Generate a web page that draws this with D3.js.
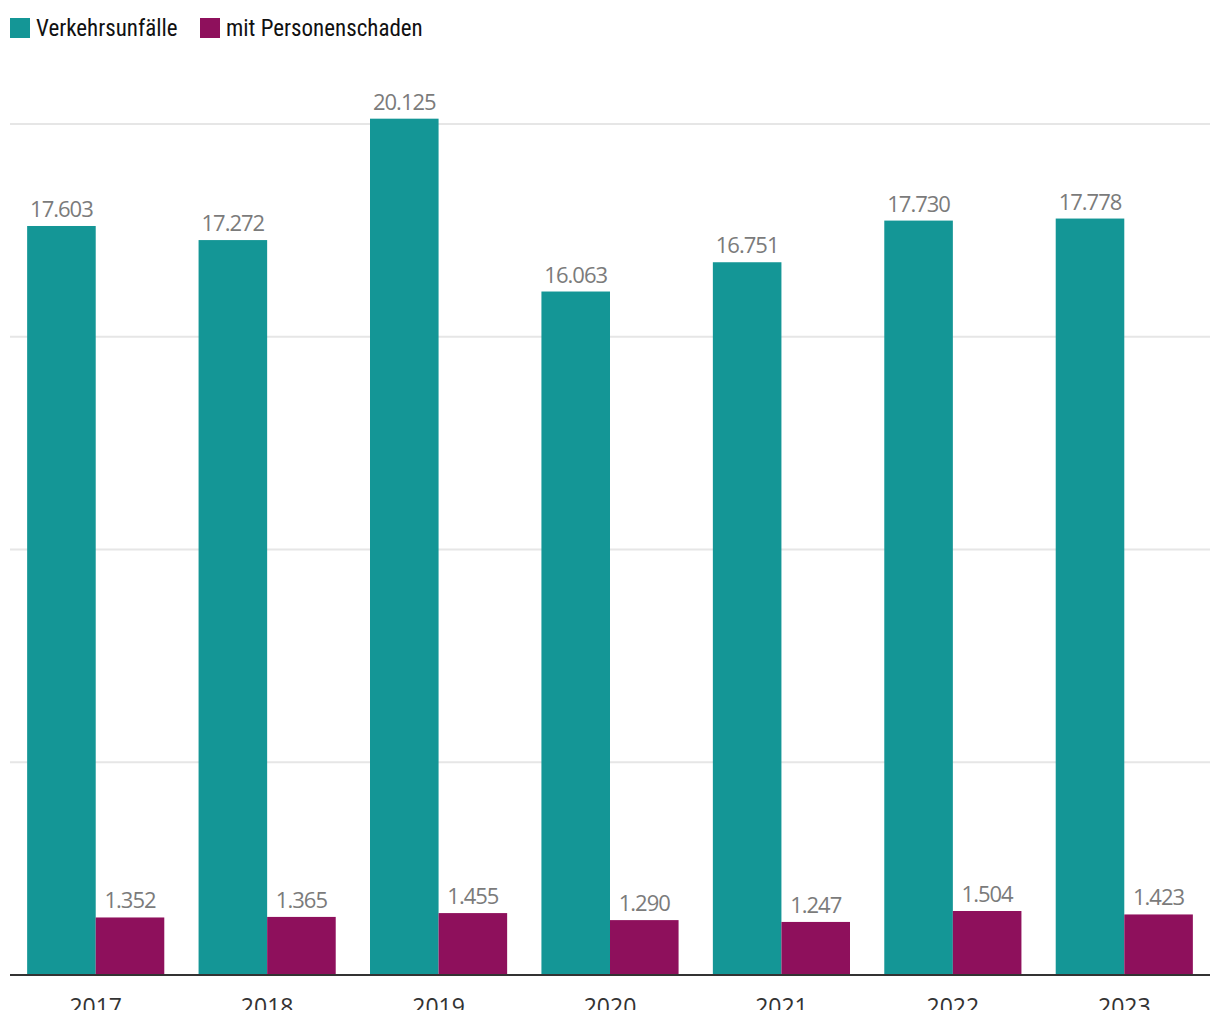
<!DOCTYPE html>
<html><head><meta charset="utf-8">
<script src="https://cdn.jsdelivr.net/npm/d3@7"></script>
<style>
html,body{margin:0;padding:0;background:#fff;}
svg{display:block;overflow:hidden;}
.lg{font-family:"Liberation Sans Narrow","Roboto Condensed","DejaVu Sans Condensed",sans-serif;font-size:23px;fill:#111;}
.val{font-family:"Open Sans","Noto Sans",sans-serif;font-size:22px;fill:#7b7b7b;letter-spacing:-1px;}
.xl{font-family:"Open Sans","Noto Sans",sans-serif;font-size:23px;fill:#333;}
</style>
</head><body>
<script>
const years = ["2017","2018","2019","2020","2021","2022","2023"];
const seriesNames = ["Verkehrsunfälle","mit Personenschaden"];
const verkehrsunfaelle = [17603,17272,20125,16063,16751,17730,17778];
const personenschaden = [1352,1365,1455,1290,1247,1504,1423];
const gridTicks = [5000,10000,15000,20000];
const colors = ["#149696","#8e105c"];

const W = 1220, H = 1010;
const svg = d3.select("body").append("svg").attr("width", W).attr("height", H);

const x0 = d3.scaleBand().domain(years).range([10,1210]).paddingInner(0.2).paddingOuter(0.1);
const x1 = d3.scaleBand().domain([0,1]).range([0,x0.bandwidth()]);
const y = d3.scaleLinear().domain([0,20000]).range([975,124]);

// gridlines
svg.append("g").selectAll("line").data(gridTicks).join("line")
  .attr("x1",10).attr("x2",1210)
  .attr("y1",d=>y(d)).attr("y2",d=>y(d))
  .attr("stroke","#e6e6e6").attr("stroke-width",2);

const data = years.map((yr,i)=>({yr, vals:[verkehrsunfaelle[i], personenschaden[i]]}));
const fmt = d3.format(",");
const de = v => fmt(v).replace(/,/g,".");

const g = svg.append("g").selectAll("g").data(data).join("g")
  .attr("transform",d=>`translate(${x0(d.yr)},0)`);
g.selectAll("rect").data(d=>d.vals.map((v,k)=>({v,k}))).join("rect")
  .attr("x",d=>x1(d.k)).attr("width",x1.bandwidth())
  .attr("y",d=>y(d.v)).attr("height",d=>y(0)-y(d.v))
  .attr("fill",d=>colors[d.k]);
g.selectAll("text").data(d=>d.vals.map((v,k)=>({v,k}))).join("text")
  .attr("class","val")
  .attr("x",d=>x1(d.k)+x1.bandwidth()/2).attr("y",d=>y(d.v)-9)
  .attr("text-anchor","middle").text(d=>de(d.v));

// baseline
svg.append("line").attr("x1",10).attr("x2",1210).attr("y1",y(0)).attr("y2",y(0))
  .attr("stroke","#333").attr("stroke-width",2);

// x axis labels
const xAxis = d3.axisBottom(x0).tickSize(0).tickPadding(0);
const ax = svg.append("g").attr("transform",`translate(0,${y(0)})`).call(xAxis);
ax.select(".domain").remove();
ax.selectAll("text").attr("class","xl").attr("dy",null).attr("y",40).style("font-size",null).style("font-family",null);
ax.attr("font-size",null).attr("font-family",null);

// legend
const lg = svg.append("g");
const lx = [10,200];
seriesNames.forEach((n,i)=>{
  lg.append("rect").attr("x",lx[i]).attr("y",18).attr("width",20).attr("height",20).attr("fill",colors[i]);
  lg.append("text").attr("class","lg").attr("x",lx[i]+26).attr("y",36).text(n);
});
</script>
</body></html>
